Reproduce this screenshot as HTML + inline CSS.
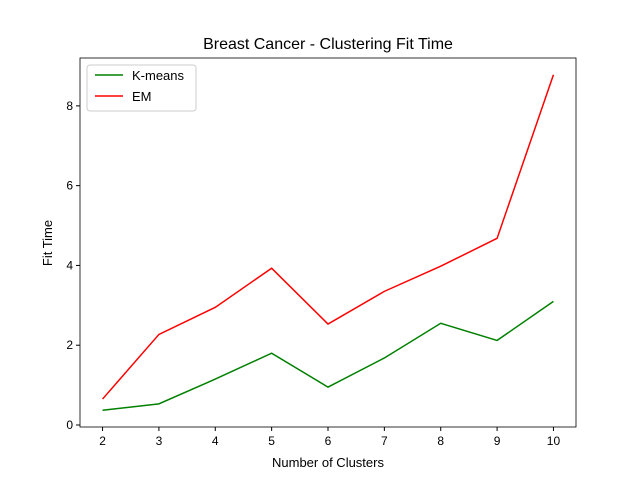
<!DOCTYPE html>
<html><head><meta charset="utf-8"><style>body{margin:0;background:#fff}svg{display:block;font-family:"Liberation Sans","DejaVu Sans",sans-serif}</style></head>
<body>
<svg id="chart" width="640" height="480">
<text x="328" y="49" text-anchor="middle" font-size="16">Breast Cancer - Clustering Fit Time</text>
<g id="plot"></g>
<text x="328" y="467" text-anchor="middle" font-size="13">Number of Clusters</text>
<text transform="translate(52,243) rotate(-90)" text-anchor="middle" font-size="13">Fit Time</text>
</svg>
<script>
const categories=[2,3,4,5,6,7,8,9,10];
const kmeans=[0.37,0.53,1.15,1.8,0.95,1.68,2.55,2.12,3.1];
const em=[0.65,2.27,2.95,3.93,2.53,3.35,3.98,4.68,8.78];
const xTicks=[2,3,4,5,6,7,8,9,10];
const yTicks=[0,2,4,6,8];
const L=80,R=576,T=58,B=427;
const allV=kmeans.concat(em);
const mn=Math.min(...allV),mx=Math.max(...allV),pad=(mx-mn)*0.05;
const y0=mn-pad,y1=mx+pad;
const xmn=Math.min(...categories),xmx=Math.max(...categories),xp=(xmx-xmn)*0.05;
const X=v=>L+(v-(xmn-xp))/((xmx+xp)-(xmn-xp))*(R-L);
const Y=v=>B-(v-y0)/(y1-y0)*(B-T);
const g=document.getElementById('plot');
const NS='http://www.w3.org/2000/svg';
function mk(t,a){const e=document.createElementNS(NS,t);for(const k in a)e.setAttribute(k,a[k]);g.appendChild(e);return e;}
xTicks.forEach(v=>{const x=X(v);
const l=mk('line',{x1:x,x2:x,y1:B,y2:B+4,stroke:'#000'});


const t=mk('text',{x:x,y:B+18,'text-anchor':'middle','font-size':12});t.textContent=v;

});
yTicks.forEach(v=>{const y=Y(v);
const l=mk('line',{x1:L-4,x2:L,y1:y,y2:y,stroke:'#000'});


const t=mk('text',{x:L-7,y:y+4,'text-anchor':'end','font-size':12});t.textContent=v;

});
function line(vals,c,n){const p=mk('polyline',{points:vals.map((v,i)=>X(categories[i])+','+Y(v)).join(' '),fill:'none',stroke:c,'stroke-width':1.5});

}
line(kmeans,'green','kmeans-line');
line(em,'red','em-line');
const f=mk('rect',{x:L,y:T,width:R-L,height:B-T,fill:'none',stroke:'#000','stroke-width':0.8});


const lg=mk('rect',{x:87,y:65,width:109,height:46,fill:'#fff',stroke:'#ccc',rx:3});


[['K-means','green',80],['EM','red',101]].forEach(([n,c,y])=>{
const l=mk('line',{x1:95,x2:123,y1:y-5,y2:y-5,stroke:c,'stroke-width':1.5});


const t=mk('text',{x:132,y:y,'font-size':13});t.textContent=n;

});
</script>
</body></html>
